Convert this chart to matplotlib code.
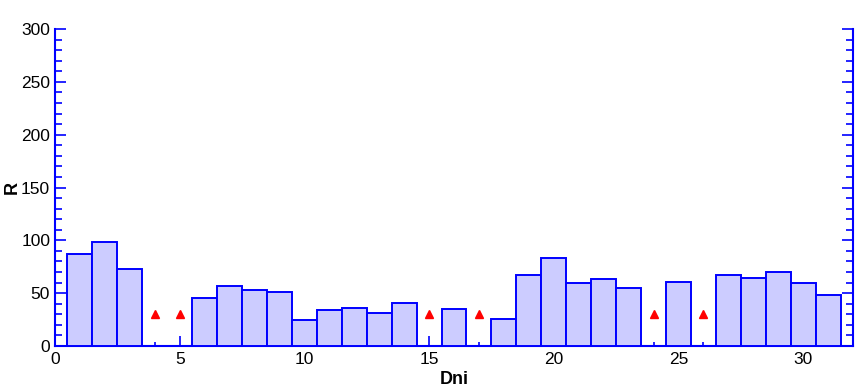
import matplotlib
matplotlib.use("Agg")
import matplotlib.pyplot as plt
from matplotlib.ticker import MultipleLocator

# Daily values (day of month -> R)
days = [1, 2, 3, 6, 7, 8, 9, 10, 11, 12, 13, 14, 16, 18, 19, 20,
        21, 22, 23, 25, 27, 28, 29, 30, 31]
values = [87, 98, 73, 45, 57, 53, 51, 25, 34, 36, 31, 41, 35, 26, 67, 83,
          60, 63, 55, 61, 67, 64, 70, 60, 48]

# Days with no data, shown with a red marker
missing_days = [4, 5, 15, 17, 24, 26]
missing_level = [30, 30, 30, 30, 30, 30]

plt.rcParams["font.family"] = ["Liberation Sans", "DejaVu Sans"]

fig = plt.figure(figsize=(8.55, 3.91), dpi=100)
ax = fig.add_axes([55 / 855, 45 / 391, 798 / 855, 317 / 391])

ax.bar(days, values, width=1.0, color="#CCCCFF", edgecolor="#0000FF", linewidth=1.4, zorder=3)
ax.plot(missing_days, missing_level, linestyle="none", marker="^", color="red",
        markersize=6, zorder=4)

ax.set_xlim(0, 32)
ax.set_ylim(0, 300)

ax.xaxis.set_major_locator(MultipleLocator(5))
ax.xaxis.set_minor_locator(MultipleLocator(1))
ax.yaxis.set_major_locator(MultipleLocator(50))
ax.yaxis.set_minor_locator(MultipleLocator(10))

for side in ["left", "right", "bottom"]:
    ax.spines[side].set_color("#0000FF")
    ax.spines[side].set_linewidth(1.5)
ax.spines["top"].set_visible(False)

ax.tick_params(axis="both", which="both", direction="in", color="#0000FF",
               labelsize=12.5, labelcolor="black", width=1.2)
ax.tick_params(axis="y", which="both", right=True)
ax.tick_params(axis="y", which="major", length=8, pad=3.5)
ax.tick_params(axis="y", which="minor", length=5)
ax.tick_params(axis="x", which="major", length=7, pad=4)
ax.tick_params(axis="x", which="minor", length=3)

ax.set_xlabel("Dni", fontsize=13, fontweight="bold", labelpad=3)
ax.set_ylabel("R", fontsize=13, fontweight="bold", va="center")
ax.yaxis.set_label_coords(-0.054, 0.5)

fig.savefig("out.png", dpi=100)
